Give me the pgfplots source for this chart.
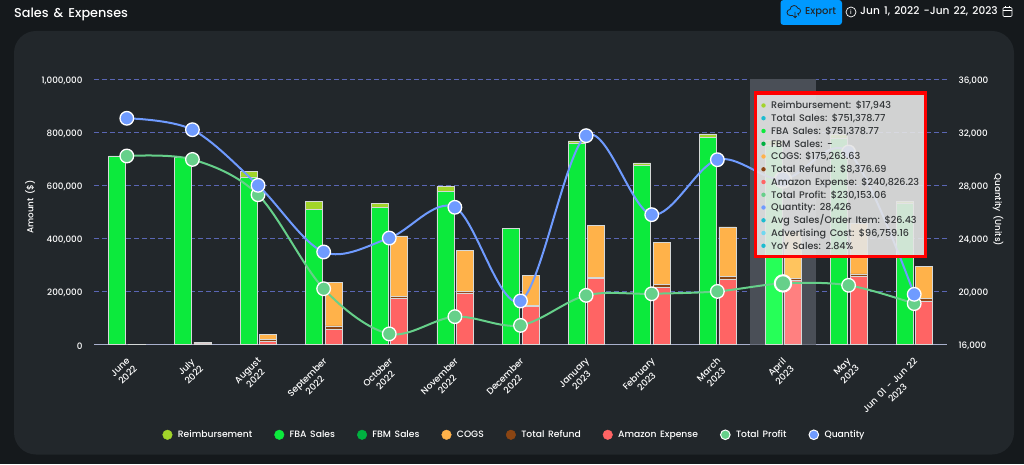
\documentclass[border=0pt]{standalone}
\usepackage{fontspec}
\setmainfont{Poppins Medium}[WordSpace=1.5]
\usepackage{pgfplots}
\usepackage{pgfplotstable}
\pgfplotsset{compat=1.18}

\definecolor{pagebg}{HTML}{15191C}
\definecolor{cardbg}{HTML}{22272B}
\definecolor{gridc}{HTML}{5A66B4}
\definecolor{basec}{HTML}{A9B0CC}
\definecolor{bandc}{HTML}{4A4F57}
\definecolor{edgec}{HTML}{D5D8D8}
\definecolor{btn}{HTML}{0099FF}
\definecolor{reimb}{HTML}{A2D42A}
\definecolor{fba}{HTML}{0CEA3C}
\definecolor{fbah}{HTML}{26FF58}
\definecolor{fbm}{HTML}{00B140}
\definecolor{cogs}{HTML}{FFB24A}
\definecolor{cogsh}{HTML}{FFC45E}
\definecolor{refund}{HTML}{8B4513}
\definecolor{amz}{HTML}{FF6464}
\definecolor{amzh}{HTML}{FF8080}
\definecolor{profit}{HTML}{66D08A}
\definecolor{qty}{HTML}{6F9BFF}
\definecolor{teal}{HTML}{1CBCD0}
\definecolor{sky}{HTML}{6FD8F0}
\definecolor{tiptext}{HTML}{333638}

% values; April is split off so that it can be highlighted
\pgfplotstableread{
idx fba    fbah      reimb amz    amzh      refund  cogs   cogsh     profit    qty
0   710000 0         0     500    0         0       500    0         710000    33040
1   705000 0         0     2000   0         1500    5500   0         697000    32180
2   631000 0         22000 12000  0         8000    18000  0         564000    27990
3   510000 0         28000 57000  0         13000   163000 0         210000    22970
4   515000 0         17000 175000 0         5000    229000 0         40000     24020
5   575000 0         20000 194000 0         6000    155000 0         105000    26335
6   438000 0         0     145000 0         2000    114000 0         72000     19280
7   758000 0         9000  248000 0         4000    198000 0         185000    31730
8   675000 0         9000  216000 0         9000    161000 0         191000    25780
9   779000 0         14000 245000 0         12000   186000 0         200000    29920
10  0      751378.77 17943 0      240826.23 8376.69 0      175263.63 230153.06 28426
11  778000 0         12000 257000 0         9000    191000 0         223000    30500
12  530000 0         8000  164000 0         8000    122000 0         154000    19780
}\datatable

\pgfplotsset{
  base/.style={
    scale only axis, width=853pt, height=265.5pt,
    at={(94pt,119.5pt)}, anchor=south west,
    xmin=-0.5, xmax=12.5, ymin=0, ymax=1000000,
  },
  stackbar/.style={fill=#1, draw=edgec, line width=0.7pt},
  curve/.style={line width=2pt, smooth, tension=0.55, no markers},
  dot/.style={only marks, mark=*, mark size=6.8pt,
    mark options={line width=1.3pt, draw=white, fill=#1}},
  bigdot/.style={only marks, mark=*, mark size=8.2pt,
    mark options={line width=2pt, draw=white, fill=#1}},
  legdot/.style={fill=#1, draw=#1},
  fmt/.style={scaled y ticks=false,
    y tick label style={/pgf/number format/fixed, /pgf/number format/1000 sep={,}, /pgf/number format/assume math mode=true}},
}

\begin{document}
\begin{tikzpicture}[x=1pt,y=1pt]
\fill[pagebg] (0,0) rectangle (1024,464);
\fill[cardbg, rounded corners=22pt] (14,9.5) rectangle (1014,433);

% header
\node[anchor=base west, text=white, inner sep=0pt, font=\fontsize{12.8}{15}\selectfont] at (14,446) {Sales \& Expenses};
\fill[btn, rounded corners=3pt] (780.5,439) rectangle (842,464);
\node[anchor=base west, text=cardbg, inner sep=0pt, font=\fontsize{10}{12}\selectfont] at (805,449) {Export};
\draw[cardbg, line width=0.8pt] (793,448.5) -- (790,448.5) arc (270:90:3) arc (180:20:4) arc (90:-90:2.8) -- (799,448.5);
\draw[cardbg, line width=0.8pt] (795,452) -- (795,446.5) (793.3,448) -- (795,446.3) -- (796.7,448);
\draw[white, line width=0.7pt] (851,452) circle (5);
\node[text=white, inner sep=0pt, font=\fontsize{6}{6}\selectfont] at (851,452) {i};
\node[anchor=base west, text=white, inner sep=0pt, font=\fontsize{10.6}{13}\selectfont] at (860,449) {Jun 1, 2022 -Jun 22, 2023};
\draw[white, line width=0.6pt, rounded corners=1pt] (1003,447.5) rectangle (1012,456.5);
\draw[white, line width=0.6pt] (1003,453.5) -- (1012,453.5) (1005.5,456.5) -- (1005.5,458) (1009.5,456.5) -- (1009.5,458);

% grid, left axis, month labels, highlight band
\begin{axis}[
  base, fmt,
  axis x line=bottom, axis y line=left,
  x axis line style={draw=basec, line width=0.9pt, -},
  y axis line style={draw=none},
  major tick length=0pt,
  ymajorgrids, grid style={gridc, line width=1pt, dash pattern=on 5pt off 3pt},
  ytick={0,200000,400000,600000,800000,1000000},
  xtick={0,...,12},
  xticklabels={{June\\2022},{July\\2022},{August\\2022},{September\\2022},{October\\2022},{November\\2022},{December\\2022},{January\\2023},{February\\2023},{March\\2023},{April\\2023},{May\\2023},{Jun 01 - Jun 22\\2023}},
  x tick label style={rotate=45, anchor=north east, align=center, text=white, font=\fontsize{9.1}{11}\selectfont, xshift=-6pt, yshift=-4.5pt},
  y tick label style={text=white, font=\fontsize{8.8}{10}\selectfont, xshift=-8pt, yshift=-1.5pt},
  ylabel={Amount (\$)},
  y label style={at={(axis description cs:-0.075,0.518)}, anchor=center, text=white, font=\fontsize{8.8}{10}\selectfont},
]
\addplot[fill=bandc, draw=none] coordinates {(9.5,0)(9.5,1000000)(10.5,1000000)(10.5,0)} \closedcycle;
\end{axis}

% sales stack
\begin{axis}[base, hide axis, ybar stacked, bar width=17pt, bar shift=-9.5pt]
\addplot[stackbar=fba]    table[x=idx,y=fba]   {\datatable};
\addplot[stackbar=fbah]   table[x=idx,y=fbah]  {\datatable};
\addplot[stackbar=reimb]  table[x=idx,y=reimb] {\datatable};
\end{axis}

% cost stack
\begin{axis}[base, hide axis, ybar stacked, bar width=17pt, bar shift=10pt]
\addplot[stackbar=amz]    table[x=idx,y=amz]    {\datatable};
\addplot[stackbar=amzh]   table[x=idx,y=amzh]   {\datatable};
\addplot[stackbar=refund] table[x=idx,y=refund] {\datatable};
\addplot[stackbar=cogs]   table[x=idx,y=cogs]   {\datatable};
\addplot[stackbar=cogsh]  table[x=idx,y=cogsh]  {\datatable};
\end{axis}

% total profit
\begin{axis}[base, hide axis, clip=false]
\addplot[color=profit, curve] table[x=idx,y=profit] {\datatable};
\addplot[dot=profit] table[x=idx,y=profit] {\datatable};
\addplot[bigdot=profit] coordinates {(10,230153.06)};
\end{axis}

% quantity, right axis, legend
\begin{axis}[
  base, fmt, ymin=16000, ymax=36000, clip=false,
  axis x line=none, axis y line=right,
  y axis line style={draw=none},
  major tick length=0pt,
  ytick={16000,20000,24000,28000,32000,36000},
  y tick label style={text=white, font=\fontsize{8.8}{10}\selectfont, xshift=8pt, yshift=-1.5pt},
  ylabel={Quantity (Units)},
  y label style={at={(axis description cs:1.06,0.507)}, anchor=center, rotate=180, text=white, font=\fontsize{8.8}{10}\selectfont},
  legend columns=8,
  legend image code/.code={\filldraw[#1] (4.8pt,0pt) circle (4.8pt); \path (13pt,0pt);},
  legend style={at={(0.493,-0.34)}, anchor=center, draw=none, fill=none, text=white,
    font=\fontsize{9.2}{10}\selectfont, nodes={text height=7pt, text depth=2pt},
    /tikz/every even column/.append style={column sep=20pt}},
]
\addplot[color=qty, curve, forget plot] table[x=idx,y=qty] {\datatable};
\addplot[dot=qty, forget plot] table[x=idx,y=qty] {\datatable};
\addplot[bigdot=qty, forget plot] coordinates {(10,28426)};
\addlegendimage{legdot=reimb}\addlegendentry{Reimbursement}
\addlegendimage{legdot=fba}\addlegendentry{FBA Sales}
\addlegendimage{legdot=fbm}\addlegendentry{FBM Sales}
\addlegendimage{legdot=cogs}\addlegendentry{COGS}
\addlegendimage{legdot=refund}\addlegendentry{Total Refund}
\addlegendimage{legdot=amz}\addlegendentry{Amazon Expense}
\addlegendimage{fill=profit, draw=white, line width=1pt}\addlegendentry{Total Profit}
\addlegendimage{fill=qty, draw=white, line width=1pt}\addlegendentry{Quantity}
\end{axis}

% tooltip
\fill[white!90!black, fill opacity=0.9] (754,206) rectangle (927,372.5);
\draw[red, line width=3.5pt] (755.5,207.5) rectangle (925.5,371);
\foreach \yy/\cc/\tt in {
  358.5/reimb/{Reimbursement: \$17,943},
  345.8/teal/{Total Sales: \$751,378.77},
  333/fba/{FBA Sales: \$751,378.77},
  320.2/fbm/{FBM Sales: -},
  307.5/cogs/{COGS: \$175,263.63},
  294.7/refund/{Total Refund: \$8,376.69},
  282/amz/{Amazon Expense: \$240,826.23},
  269.2/profit/{Total Profit: \$230,153.06},
  256.5/qty/{Quantity: 28,426},
  243.7/teal/{Avg Sales/Order Item: \$26.43},
  231/sky/{Advertising Cost: \$96,759.16},
  218.2/teal/{YoY Sales: 2.84\%}} {
  \fill[\cc] (763.5,\yy) circle (2.2);
  \node[anchor=base west, inner sep=0pt, text=tiptext, font=\fontsize{9.6}{11}\selectfont, yshift=-3.4pt] at (771,\yy) {\tt};
}
\end{tikzpicture}
\end{document}
